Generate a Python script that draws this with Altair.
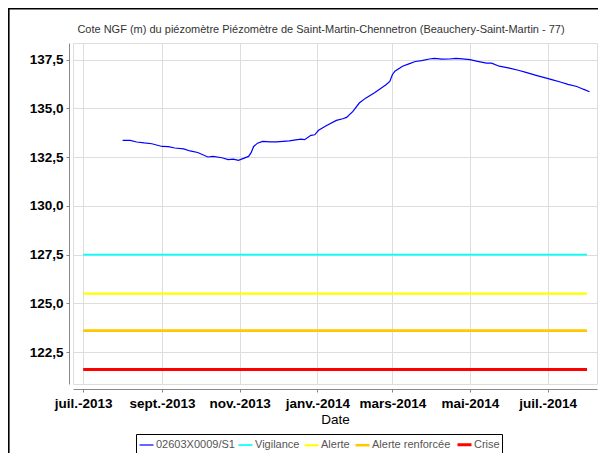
import altair as alt
import pandas as pd

chart_title = "Cote NGF (m) du piézomètre Piézomètre de Saint-Martin-Chennetron (Beauchery-Saint-Martin - 77)"
series_name = "02603X0009/S1"

dates = [
    "2013-08-01", "2013-08-07", "2013-08-12", "2013-08-18", "2013-08-24", "2013-09-01",
    "2013-09-06", "2013-09-11", "2013-09-18", "2013-09-23", "2013-09-29", "2013-10-07",
    "2013-10-11", "2013-10-18", "2013-10-23", "2013-10-27", "2013-10-31", "2013-11-04",
    "2013-11-08", "2013-11-10", "2013-11-12", "2013-11-15", "2013-11-19", "2013-11-25",
    "2013-11-30", "2013-12-10", "2013-12-19", "2013-12-22", "2013-12-27", "2013-12-30",
    "2014-01-02", "2014-01-08", "2014-01-16", "2014-01-21", "2014-01-24", "2014-01-29",
    "2014-02-03", "2014-02-08", "2014-02-15", "2014-02-24", "2014-02-27", "2014-03-01",
    "2014-03-03", "2014-03-09", "2014-03-14", "2014-03-19", "2014-03-24", "2014-03-30",
    "2014-04-03", "2014-04-09", "2014-04-15", "2014-04-20", "2014-04-25", "2014-05-01",
    "2014-05-07", "2014-05-14", "2014-05-18", "2014-05-24", "2014-06-01", "2014-06-08",
    "2014-06-14", "2014-06-22", "2014-06-30", "2014-07-05", "2014-07-11", "2014-07-17",
    "2014-07-24", "2014-07-29", "2014-08-03",
]
levels = [
    133.36, 133.36, 133.28, 133.23, 133.19, 133.05,
    133.04, 132.97, 132.93, 132.82, 132.74, 132.51,
    132.54, 132.47, 132.38, 132.40, 132.34, 132.44,
    132.54, 132.73, 133.05, 133.22, 133.31, 133.29,
    133.29, 133.34, 133.43, 133.40, 133.62, 133.65,
    133.88, 134.11, 134.39, 134.47, 134.54, 134.85,
    135.28, 135.53, 135.81, 136.22, 136.39, 136.73,
    136.91, 137.17, 137.29, 137.41, 137.46, 137.54,
    137.57, 137.53, 137.54, 137.57, 137.55, 137.51,
    137.42, 137.33, 137.33, 137.17, 137.07, 136.96,
    136.85, 136.70, 136.56, 136.47, 136.36, 136.24,
    136.13, 135.99, 135.86,
]

threshold_names = ["Vigilance", "Alerte", "Alerte renforcée", "Crise"]
threshold_values = [127.5, 125.5, 123.6, 121.6]
threshold_start = "2013-07-01"
threshold_end = "2014-08-01"

legend_order = [series_name] + threshold_names
legend_colors = ["#0000ff", "#00ffff", "#ffff00", "#ffc800", "#ff0000"]
legend_widths = [1.2, 3, 3, 3, 3]

month_names = ["janv.", "févr.", "mars", "avr.", "mai", "juin",
               "juil.", "août", "sept.", "oct.", "nov.", "déc."]
y_ticks = [122.5, 125.0, 127.5, 130.0, 132.5, 135.0, 137.5]
x_ticks = [(2013, 7), (2013, 9), (2013, 11), (2014, 1), (2014, 3), (2014, 5), (2014, 7)]

rows = [{"date": d + "T00:00:00", "value": v, "serie": series_name} for d, v in zip(dates, levels)]
for n, v in zip(threshold_names, threshold_values):
    rows.append({"date": threshold_start + "T00:00:00", "value": v, "serie": n})
    rows.append({"date": threshold_end + "T00:00:00", "value": v, "serie": n})
df = pd.DataFrame(rows)

FONT = "Liberation Sans"
month_js = "[" + ",".join("'" + m + "'" for m in month_names) + "]"

x_enc = alt.X(
    "date:T",
    title="Date",
    scale=alt.Scale(domain=[alt.DateTime(year=2013, month=6, date=23),
                            alt.DateTime(year=2014, month=8, date=8, hours=20)]),
    axis=alt.Axis(
        values=[alt.DateTime(year=y, month=m, date=1) for y, m in x_ticks],
        labelExpr=month_js + "[month(datum.value)] + '-' + year(datum.value)",
        offset=5, tickSize=3, labelPadding=4, titlePadding=3,
        labelFontSize=13.5, titleFontSize=13.5, labelFlush=False,
        labelFontWeight="bold", titleFontWeight="normal",
    ),
)
y_enc = alt.Y(
    "value:Q",
    title=None,
    scale=alt.Scale(domain=[120.86, 138.36], nice=False, zero=False),
    axis=alt.Axis(values=y_ticks, labelExpr="replace(format(datum.value, '.1f'), '.', ',')",
                  offset=4, tickSize=3, labelPadding=3, labelFontSize=13.5,
                  labelFontWeight="bold"),
)

width_expr = "datum.value === '" + series_name + "' ? 1.2 : 3"

lines = alt.Chart(df).mark_line(clip=True, strokeCap="butt").encode(
    x=x_enc,
    y=y_enc,
    color=alt.Color("serie:N", sort=legend_order,
                    scale=alt.Scale(domain=legend_order, range=legend_colors),
                    legend=alt.Legend(
                        title=None, orient="none", legendX=63, legendY=391,
                        direction="horizontal", columns=5,
                        strokeColor="black", fillColor="white", padding=2,
                        symbolType="stroke", symbolSize=196,
                        symbolStrokeWidth={"expr": width_expr},
                        labelFont=FONT, labelFontSize=11, labelColor="#555",
                        labelOffset=1, columnPadding=0,
                    )),
    strokeWidth=alt.StrokeWidth("serie:N", sort=legend_order,
                                scale=alt.Scale(domain=legend_order, range=legend_widths),
                                legend=None),
)

frame_df = pd.DataFrame({"k": [0]})
frame_left = alt.Chart(frame_df).mark_rule(color="black", strokeWidth=1.6).encode(
    x=alt.value(-64.2), y=alt.value(-35), y2=alt.value(410))
frame_top = alt.Chart(frame_df).mark_rule(color="black", strokeWidth=1.6).encode(
    y=alt.value(-34.2), x=alt.value(-65), x2=alt.value(526))

chart = alt.layer(lines, frame_left, frame_top).properties(
    width=524, height=341,
    autosize=alt.AutoSizeParams(type="none"),
    padding={"left": 65, "top": 35, "right": 1, "bottom": 69},
    title=alt.TitleParams(chart_title, font=FONT, fontSize=11, fontWeight="normal",
                          color="#333", anchor="middle", dx=-14, dy=36, offset=8, frame="group"),
).configure_axis(
    labelFont=FONT, titleFont=FONT, labelColor="#444", titleColor="#444",
    domainColor="#888", tickColor="#888",
    gridColor="#d8d8d8", gridDash=[2, 2], gridWidth=1,
).configure_view(
    stroke="#aaa", strokeWidth=1,
).configure(background="white")

chart.save("out.html", embed_options={"renderer": "svg", "actions": False})
